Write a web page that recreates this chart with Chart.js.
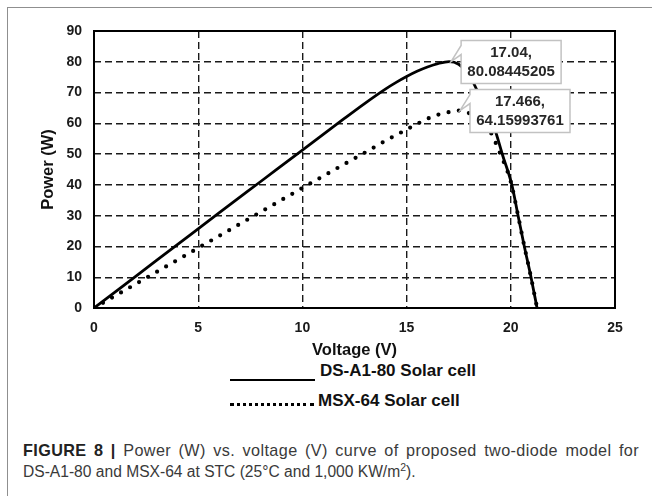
<!DOCTYPE html>
<html>
<head>
<meta charset="utf-8">
<script src="https://cdn.jsdelivr.net/npm/chart.js@4.4.1/dist/chart.umd.min.js"></script>
<style>
  html, body { margin: 0; padding: 0; background: #fff; }
  body { width: 652px; height: 496px; position: relative; overflow: hidden; font-family: "Liberation Sans", Arial, sans-serif; }
  #frame { position: absolute; left: 7px; top: 7px; width: 700px; height: 600px; border-top: 1.5px solid #8f8f8f; border-left: 1.5px solid #8f8f8f; }
  #chartBox { position: absolute; left: 0; top: 0; width: 652px; height: 360px; }
  .swatch-line { position: absolute; left: 230px; top: 379px; width: 85px; height: 0; border-top: 2px solid #000; }
  .swatch-dots { position: absolute; left: 230px; top: 403px; width: 84px; height: 0; border-top: 3.5px dotted #000; }
  .legend-text { position: absolute; font-weight: bold; font-size: 17px; line-height: 20px; color: #111; white-space: nowrap; }
  .caption { position: absolute; left: 23px; width: 616px; line-height: 21px; color: #3a3a3a; white-space: nowrap; }
  .caption b { color: #222; }
  #cap1 { top: 440px; font-size: 16.2px; letter-spacing: 0.4px; text-align: justify; text-align-last: justify; }
  #cap2 { top: 461px; font-size: 15.6px; text-align: left; }
</style>
</head>
<body>
<div id="frame"></div>
<div id="chartBox"><canvas id="pvChart" width="652" height="360"></canvas></div>
<div class="swatch-line"></div>
<div class="legend-text" style="left:320px; top:361px;">DS-A1-80 Solar cell</div>
<div class="swatch-dots"></div>
<div class="legend-text" style="left:318px; top:391px;">MSX-64 Solar cell</div>
<div class="caption" id="cap1"><b>FIGURE 8 |</b> Power (W) vs. voltage (V) curve of proposed two-diode model for</div>
<div class="caption" id="cap2">DS-A1-80 and MSX-64 at STC (25°C and 1,000 KW/m<sup style="font-size:10.5px;line-height:0">2</sup>).</div>

<script>
// DS-A1-80 (solid curve)
const dsVoltage = [0, 2, 4, 6, 8, 10, 11, 12, 13, 14, 14.5, 15, 15.5, 16, 16.5, 17.04, 17.5, 18, 18.4, 18.8, 19.2, 19.6, 20.05, 20.35, 20.65, 20.97, 21.26];
const dsPower = [0, 10.3, 20.6, 30.9, 41.1, 51.3, 56.4, 61.5, 66.5, 71.2, 73.3, 75.2, 76.9, 78.3, 79.4, 80.08, 79.2, 75.8, 70.5, 65.5, 58.8, 49.8, 40, 30, 20, 10, 0];

// MSX-64 (dotted curve)
const msxVoltage = [0, 2, 4, 6, 8, 10, 12, 13, 14, 14.5, 15, 15.5, 16, 16.5, 17, 17.466, 18, 18.5, 19, 19.5, 20, 20.35, 20.65, 20.97, 21.26];
const msxPower = [0, 7.8, 15.6, 23.4, 31.2, 39, 46.7, 50.5, 54.4, 56.2, 58, 59.8, 61.5, 62.8, 63.6, 64.16, 63.3, 61.5, 57.5, 50, 41, 30, 20, 10, 0];

// maximum power points shown in the callouts
const peakVoltage = [17.04, 17.466];
const peakPower = [80.08445205, 64.15993761];

// axis ticks
const xTicks = [0, 5, 10, 15, 20, 25];
const yTicks = [0, 10, 20, 30, 40, 50, 60, 70, 80, 90];

const FONT = '"Liberation Sans", Arial, sans-serif';

const toPoints = (xs, ys) => xs.map((v, i) => ({ x: v, y: ys[i] }));

// solid frame round the plot area
const plotFrame = {
  id: "plotFrame",
  beforeDatasetsDraw(chart) {
    const { ctx, chartArea: a } = chart;
    ctx.save();
    ctx.strokeStyle = "#000";
    ctx.lineWidth = 2;
    ctx.strokeRect(a.left, a.top, a.right - a.left, a.bottom - a.top);
    ctx.restore();
  },
};

// Excel style data callouts at the peaks
const callouts = {
  id: "callouts",
  afterDatasetsDraw(chart) {
    const { ctx, scales } = chart;
    ctx.save();
    ctx.font = "bold 15px " + FONT;
    ctx.textAlign = "center";
    ctx.textBaseline = "middle";
    peakVoltage.forEach((v, i) => {
      const px = scales.x.getPixelForValue(v);
      const py = scales.y.getPixelForValue(peakPower[i]);
      const bx = px + 12, by = py - 21, bw = 100, bh = 43;
      ctx.beginPath();
      ctx.moveTo(bx, by);
      ctx.lineTo(bx + bw, by);
      ctx.lineTo(bx + bw, by + bh);
      ctx.lineTo(bx, by + bh);
      ctx.lineTo(bx, by + 14);
      ctx.lineTo(px + 2, py);
      ctx.lineTo(bx, by + 5);
      ctx.closePath();
      ctx.fillStyle = "#fff";
      ctx.fill();
      ctx.strokeStyle = "#c2c2c2";
      ctx.lineWidth = 1.5;
      ctx.stroke();
      ctx.fillStyle = "#262626";
      ctx.fillText(v + ",", bx + bw / 2, by + 12.5);
      ctx.fillText(String(peakPower[i]), bx + bw / 2, by + 31);
    });
    ctx.restore();
  },
};

const tickFont = { family: FONT, size: 14, weight: "bold" };
const titleFont = { family: FONT, size: 16.5, weight: "bold" };
const gridOpts = { color: "#1a1a1a", lineWidth: 1.4, drawTicks: false };

new Chart(document.getElementById("pvChart").getContext("2d"), {
  type: "line",
  data: {
    datasets: [
      {
        label: "DS-A1-80 Solar cell",
        data: toPoints(dsVoltage, dsPower),
        borderColor: "#000",
        borderWidth: 2.8,
        pointRadius: 0,
        cubicInterpolationMode: "monotone",
        fill: false,
      },
      {
        label: "MSX-64 Solar cell",
        data: toPoints(msxVoltage, msxPower),
        borderColor: "#000",
        borderWidth: 4.2,
        borderDash: [0, 10.4],
        borderCapStyle: "round",
        pointRadius: 0,
        cubicInterpolationMode: "monotone",
        fill: false,
      },
    ],
  },
  options: {
    responsive: false,
    animation: false,
    devicePixelRatio: 1,
    layout: { padding: { left: 36, right: 37, top: 31, bottom: 0 } },
    plugins: { legend: { display: false }, tooltip: { enabled: false } },
    scales: {
      x: {
        type: "linear",
        min: 0,
        max: 25,
        afterBuildTicks: (scale) => { scale.ticks = xTicks.map((v) => ({ value: v })); },
        afterFit: (scale) => { scale.height = 52; },
        grid: gridOpts,
        border: { display: false, dash: [7, 4] },
        ticks: { font: tickFont, color: "#1a1a1a", padding: 12, maxRotation: 0 },
        title: { display: true, text: "Voltage (V)", font: titleFont, color: "#111", padding: { top: 0, bottom: 0 } },
      },
      y: {
        min: 0,
        max: 90,
        afterBuildTicks: (scale) => { scale.ticks = yTicks.map((v) => ({ value: v })); },
        afterFit: (scale) => { scale.width = 58; },
        grid: gridOpts,
        border: { display: false, dash: [7, 4] },
        ticks: { font: tickFont, color: "#1a1a1a", padding: 12 },
        title: { display: true, text: "Power (W)", font: titleFont, color: "#111", padding: { top: 3, bottom: 0 } },
      },
    },
  },
  plugins: [plotFrame, callouts],
});
</script>
</body>
</html>
